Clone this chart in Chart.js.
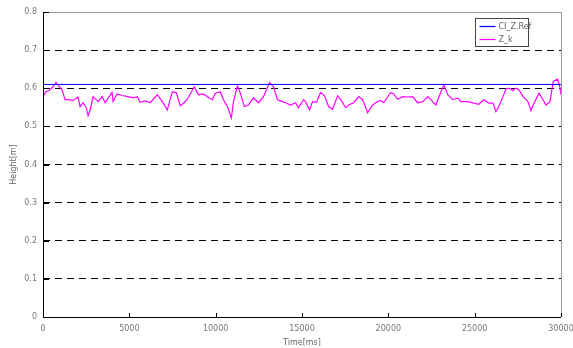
<!DOCTYPE html>
<html>
<head>
<meta charset="utf-8">
<script src="https://cdn.jsdelivr.net/npm/chart.js@4"></script>
<style>
  html, body { margin: 0; padding: 0; background: #fff; }
  #wrap { width: 573px; height: 348px; }
</style>
</head>
<body>
<div id="wrap"><canvas id="chart" width="573" height="348"></canvas></div>
<script>
// Z_k samples (time in ms, height in m)
const timeMs = [0, 170, 410, 580, 750, 870, 1100, 1280, 1450, 1740, 2030, 2150, 2320, 2500, 2610, 2730, 2900, 3190, 3420, 3600, 3770, 4000, 4060, 4290, 4580, 4930,
  5220, 5460, 5630, 5920, 6210, 6620, 6910, 7200, 7490, 7720, 7950, 8180, 8410, 8760, 9000, 9290, 9520, 9810, 9980,
  10270, 10450, 10680, 10910, 11030, 11260, 11430, 11660, 11900, 12190, 12480, 12770, 13120, 13350, 13580, 13870, 14040, 14330, 14620, 14800,
  15090, 15200, 15440, 15610, 15840, 16070, 16310, 16540, 16770, 17060, 17240, 17530, 17700, 17990, 18280, 18510, 18800, 19090, 19380, 19560, 19730,
  20140, 20310, 20540, 20830, 21120, 21410, 21700, 21990, 22280, 22570, 22750, 22980, 23210, 23440, 23730, 24020, 24200, 24600, 24950,
  25240, 25530, 25820, 26060, 26230, 26400, 26640, 26810, 26980, 27220, 27390, 27560, 27800, 28090, 28260, 28440, 28730, 28960, 29130, 29360, 29550, 29800, 29930, 30000];
const zK = [0.578, 0.591, 0.596, 0.604, 0.615, 0.609, 0.596, 0.570, 0.570, 0.568, 0.577, 0.552, 0.562, 0.549, 0.528, 0.543, 0.578, 0.565, 0.578, 0.562, 0.574, 0.589, 0.565, 0.585, 0.581, 0.578,
  0.575, 0.578, 0.563, 0.567, 0.562, 0.583, 0.565, 0.543, 0.591, 0.588, 0.554, 0.562, 0.575, 0.604, 0.583, 0.585, 0.578, 0.570, 0.587,
  0.591, 0.570, 0.552, 0.522, 0.565, 0.606, 0.587, 0.552, 0.556, 0.575, 0.562, 0.578, 0.615, 0.604, 0.570, 0.565, 0.562, 0.556, 0.562, 0.549,
  0.570, 0.565, 0.543, 0.565, 0.563, 0.589, 0.580, 0.552, 0.545, 0.580, 0.570, 0.549, 0.556, 0.562, 0.578, 0.570, 0.536, 0.556, 0.565, 0.568, 0.562,
  0.589, 0.585, 0.571, 0.578, 0.577, 0.578, 0.562, 0.565, 0.578, 0.565, 0.556, 0.583, 0.609, 0.583, 0.570, 0.574, 0.565, 0.565, 0.561,
  0.558, 0.570, 0.561, 0.561, 0.539, 0.552, 0.578, 0.598, 0.600, 0.594, 0.600, 0.596, 0.578, 0.565, 0.541, 0.561, 0.587, 0.570, 0.556, 0.565, 0.618, 0.624, 0.604, 0.583];

const refTime = [0, 30000];
const refValue = [0.61, 0.61];

const seriesNames = ['CI_Z.Ref', 'Z_k'];
const seriesColors = ['#0000ff', '#ff00ff'];
const yTicks = [0, 0.1, 0.2, 0.3, 0.4, 0.5, 0.6, 0.7, 0.8];
const xTicks = [0, 5000, 10000, 15000, 20000, 25000, 30000];

const toPoints = (xs, ys) => xs.map((x, i) => ({ x: x, y: ys[i] }));

const tickFont = { family: 'DejaVu Sans', size: 8 };

// inward tick marks + frame + floating legend
const framePlugin = {
  id: 'frame',
  afterDraw(chart) {
    const ctx = chart.ctx;
    const a = chart.chartArea;
    const xs = chart.scales.x, ys = chart.scales.y;
    ctx.save();
    ctx.lineWidth = 1;
    // top and right frame (gray)
    ctx.strokeStyle = '#999';
    ctx.beginPath();
    ctx.moveTo(a.left, a.top + 0.5); ctx.lineTo(a.right, a.top + 0.5);
    ctx.moveTo(a.right + 0.5, a.top); ctx.lineTo(a.right + 0.5, a.bottom);
    ctx.stroke();
    // left and bottom axis (black)
    ctx.strokeStyle = '#000';
    ctx.beginPath();
    ctx.moveTo(a.left + 0.5, a.top); ctx.lineTo(a.left + 0.5, a.bottom + 0.5);
    ctx.lineTo(a.right, a.bottom + 0.5);
    ctx.stroke();
    // inward ticks
    ctx.beginPath();
    xTicks.forEach(v => {
      const px = Math.round(xs.getPixelForValue(v)) + 0.5;
      ctx.moveTo(px, a.bottom); ctx.lineTo(px, a.bottom - 4);
    });
    yTicks.forEach(v => {
      const py = Math.round(ys.getPixelForValue(v)) + 0.5;
      ctx.moveTo(a.left, py); ctx.lineTo(a.left + 6, py);
    });
    ctx.stroke();

    // legend box
    const bx = 475.5, by = 18.5, bw = 53, bh = 28;
    ctx.fillStyle = '#fff';
    ctx.fillRect(bx, by, bw, bh);
    ctx.strokeStyle = '#444';
    ctx.strokeRect(bx, by, bw, bh);
    ctx.font = '8px "DejaVu Sans"';
    ctx.textBaseline = 'middle';
    seriesNames.forEach((name, i) => {
      const ly = Math.round(by + 7 + i * 13) + 0.5;
      ctx.strokeStyle = seriesColors[i];
      ctx.lineWidth = 1.2;
      ctx.beginPath();
      ctx.moveTo(bx + 4, ly); ctx.lineTo(bx + 20, ly);
      ctx.stroke();
      ctx.fillStyle = '#666';
      ctx.fillText(name, bx + 23, ly);
    });
    ctx.restore();
  }
};

new Chart(document.getElementById('chart'), {
  type: 'line',
  data: {
    datasets: [
      {
        label: seriesNames[0],
        data: toPoints(refTime, refValue),
        borderColor: seriesColors[0],
        borderWidth: 1,
        pointRadius: 0,
        fill: false
      },
      {
        label: seriesNames[1],
        data: toPoints(timeMs, zK),
        borderColor: seriesColors[1],
        borderWidth: 1.2,
        pointRadius: 0,
        tension: 0,
        fill: false
      }
    ]
  },
  options: {
    responsive: false,
    animation: false,
    layout: { padding: { top: 12, right: 12, left: 9, bottom: 0 } },
    plugins: {
      legend: { display: false },
      tooltip: { enabled: false }
    },
    scales: {
      x: {
        type: 'linear',
        min: 0,
        max: 30000,
        afterBuildTicks: s => { s.ticks = xTicks.map(v => ({ value: v })); },
        afterFit: s => { s.height = 31; s.paddingRight = 0; s.paddingLeft = 0; },
        grid: { display: false, drawTicks: false },
        border: { display: false },
        ticks: {
          font: tickFont,
          color: '#777',
          padding: 7,
          maxRotation: 0,
          callback: v => String(v)
        },
        title: {
          display: true,
          text: 'Time[ms]',
          font: tickFont,
          color: '#666',
          padding: { top: 0, bottom: 0 }
        }
      },
      y: {
        min: 0,
        max: 0.8,
        afterBuildTicks: s => { s.ticks = yTicks.map(v => ({ value: v })); },
        afterFit: s => { s.width = 34; s.paddingTop = 0; s.paddingBottom = 0; },
        grid: {
          color: ctx => ctx.tick.value === 0.8 || ctx.tick.value === 0 ? 'rgba(0,0,0,0)' : '#000',
          lineWidth: 1,
          drawTicks: false
        },
        border: { display: false, dash: [7, 5] },
        ticks: {
          font: tickFont,
          color: '#777',
          padding: 6,
          callback: v => (v === 0 ? '0' : v.toFixed(1))
        },
        title: {
          display: true,
          text: 'Height[m]',
          font: tickFont,
          color: '#666',
          padding: { top: 0, bottom: 2 }
        }
      }
    }
  },
  plugins: [framePlugin]
});
</script>
</body>
</html>
